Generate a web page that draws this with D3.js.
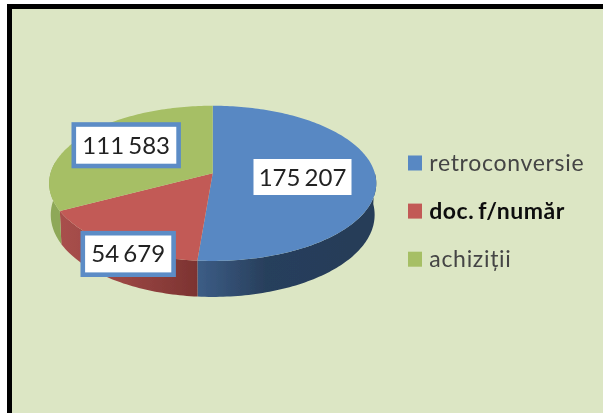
<!DOCTYPE html>
<html><head><meta charset="utf-8">
<script src="https://cdn.jsdelivr.net/npm/d3@7/dist/d3.min.js"></script>
<style>html,body{margin:0;padding:0;background:#fff}svg{display:block}</style>
</head><body><svg id="c" width="603" height="413"></svg>
<script>
const categories = ["retroconversie", "doc. f/număr", "achiziții"];
const values = [175207, 54679, 111583];
const valueLabels = ["175 207", "54 679", "111 583"];
const colors = ["#5888c3", "#c25a57", "#a6bf65"];

const svg = d3.select("#c");
const defs = svg.append("defs");
defs.append("filter").attr("id","soft").attr("x","-5%").attr("y","-5%").attr("width","110%").attr("height","110%")
  .append("feGaussianBlur").attr("stdDeviation",0.45);

// frame
svg.append("rect").attr("x",7).attr("y",4).attr("width",600).attr("height",420).attr("fill","#000");
svg.append("rect").attr("x",12).attr("y",9).attr("width",600).attr("height",420).attr("fill","#dce6c4");

const root = svg.append("g").attr("filter","url(#soft)");

// perspective view of the pie disc
const cx = 212.7, cy = 173.3, bx = 162.2, ay = 76.3, k = -0.1293;
const proj = a => {
  const u = Math.sin(a), v = -Math.cos(a), d = 1 + k*v;
  return [cx + bx*u/d, cy + ay*v/d];
};
const projLow = a => {
  const [x,y] = proj(a), v = -Math.cos(a);
  return [cx + (x-cx)*0.99, y + 30.8 + 5.2*v];
};
const line = d3.line();
const arcs = d3.pie().sort(null).value(d=>d)(values);
const samples = (a0,a1) => { const n = Math.max(2,Math.ceil((a1-a0)/0.02)); return d3.range(n+1).map(i=>a0+(a1-a0)*i/n); };

// wall gradients
const wallStops = [
  [[0,"#263c58"],[0.62,"#283f5c"],[1,"#3c5d86"]],
  [[0,"#a84f4c"],[0.45,"#9a4643"],[1,"#7c3331"]],
  [[0,"#8ea858"],[1,"#8ea858"]]
];
const walls = [
  {i:0,a0:Math.PI/2,a1:arcs[0].endAngle,x1:376,x2:197.7},
  {i:1,a0:arcs[1].startAngle,a1:arcs[1].endAngle,x1:60,x2:197.7},
  {i:2,a0:arcs[2].startAngle,a1:1.55*Math.PI,x1:49,x2:62}
];
walls.forEach(w=>{
  const g = defs.append("linearGradient").attr("id","w"+w.i).attr("gradientUnits","userSpaceOnUse")
    .attr("x1",w.x1).attr("x2",w.x2).attr("y1",0).attr("y2",0);
  wallStops[w.i].forEach(s=>g.append("stop").attr("offset",s[0]).attr("stop-color",s[1]));
  const s = samples(w.a0,w.a1);
  root.append("path").attr("d",line(s.map(proj).concat(s.slice().reverse().map(projLow)))+"Z")
    .attr("fill",`url(#w${w.i})`);
});
// faces
arcs.forEach((d,i)=>{
  const pts = [[cx,cy]].concat(samples(d.startAngle,d.endAngle).map(proj));
  root.append("path").attr("d",line(pts)+"Z").attr("fill",colors[i]);
});

// value labels
const labelBoxes = [
  {x:253.5,y:159,w:98,h:36,b:0},
  {x:82.8,y:233.2,w:90.8,h:41.5,b:4.6},
  {x:73.8,y:124.5,w:104.8,h:41.5,b:4.6}
];
labelBoxes.forEach((l,i)=>{
  root.append("rect").attr("x",l.x).attr("y",l.y).attr("width",l.w).attr("height",l.h)
    .attr("fill","#fff").attr("stroke",l.b?"#5b8cc6":"none").attr("stroke-width",l.b);
  root.append("text").attr("x",l.x+l.w/2).attr("y",l.y+l.h/2+8.5).attr("text-anchor","middle")
    .attr("font-family","Lato").attr("font-size",24).attr("word-spacing",-2).attr("fill","#222").text(valueLabels[i]);
});

// legend
const legendY = d3.scalePoint().domain(categories).range([163,259.2]);
categories.forEach((c,i)=>{
  const y = legendY(c);
  root.append("rect").attr("x",408).attr("y",y-7.5).attr("width",14).attr("height",15).attr("fill",colors[i]);
  root.append("text").attr("x",429.3).attr("y",y+7.6)
    .attr("font-family","Lato").attr("font-size",23).attr("letter-spacing",i===1?0.5:0.7).attr("word-spacing",-2)
    .attr("font-weight",i===1?700:400).attr("fill",i===1?"#111":"#444").text(c);
});
</script></body></html>
